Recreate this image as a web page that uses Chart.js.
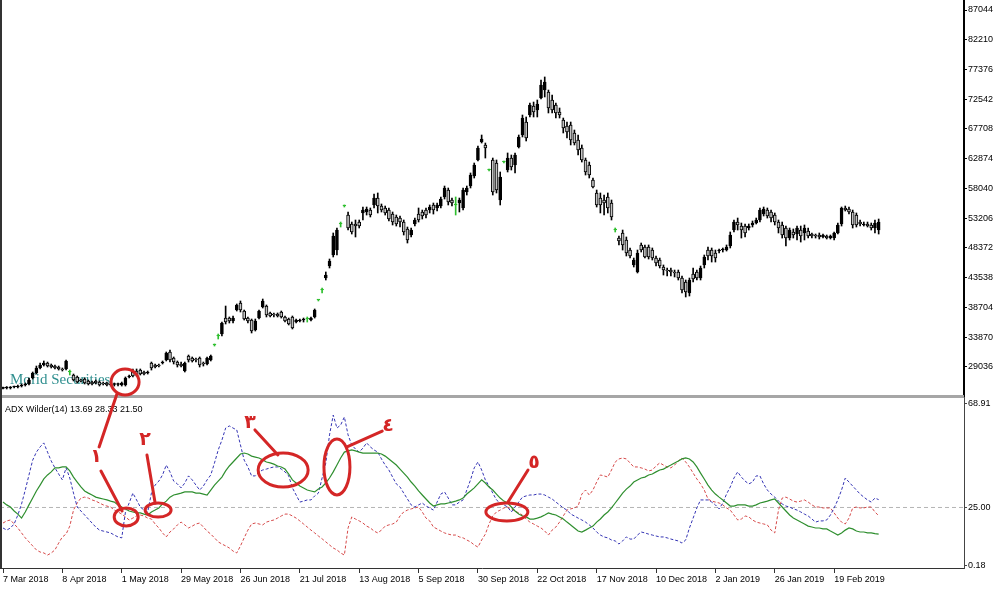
<!DOCTYPE html>
<html><head><meta charset="utf-8">
<script src="https://cdn.jsdelivr.net/npm/chart.js@4.4.1/dist/chart.umd.min.js"></script>
<style>html,body{margin:0;padding:0;background:#fff;}canvas{display:block;}</style>
</head><body>
<canvas id="c" width="1000" height="592"></canvas>
<script>
// ---------- DATA ----------
const openP = [25560,25620,25620,25780,25780,25940,26110,26270,27240,28060,
 28870,29360,29680,29360,29190,29030,28710,28710,28220,27730,
 27410,26920,27080,26760,26590,26760,26590,26430,26430,26270,
 26190,26190,26110,26110,27410,28220,28380,28540,28220,28060,
 29680,29360,29360,29680,30170,31470,30490,29840,29520,28380,
 30820,30490,30330,30490,29680,29520,30170,32610,34070,34390,
 36990,36990,36510,38290,39430,38130,36990,36670,35040,36990,
 38780,38940,37810,37640,37640,37970,37160,36830,37160,36340,
 36510,36670,36830,36670,37160,39920,41540,43490,45440,47230,
 48040,52270,55190,53730,52270,52270,52590,54060,54220,54540,
 55360,56490,55190,54870,54540,53890,53410,53240,52590,51460,
 50480,52270,53890,54220,54540,54540,55360,54870,55190,56660,
 57790,56170,55360,55680,54870,57470,58440,60070,62670,65590,
 65110,61040,62670,62180,56170,62340,61040,62990,61860,64780,
 66730,68840,69980,71440,70790,72740,74040,73720,72420,71610,
 70470,69170,68190,68360,67060,65920,64620,62670,61860,59420,
 57310,56490,56170,56660,55680,51290,49990,50810,49670,48040,
 45610,44470,48860,48530,48530,48040,46740,46420,45280,44790,
 44790,44470,44470,43490,42840,41060,44140,44470,43490,45610,
 48040,48040,47560,47880,48040,48040,48690,51290,52590,51940,
 51940,51620,52110,52430,52920,53890,54540,54220,53730,52590,
 52110,51620,49990,50970,50640,51290,50810,51130,50640,50480,
 50480,50160,50320,49990,49990,50810,52270,54870,54710,54220,
 53730,52590,52110,52270,52110,51620,51290];
const highP = [25780,25860,25860,25940,26110,26270,26430,27240,28220,29190,
 29680,30010,29840,29520,29360,29190,28870,30170,28540,27890,
 27570,27080,27240,26920,26760,26920,26760,26590,26590,26430,
 26430,26430,26590,27410,27730,28710,28710,28710,28380,28380,
 29840,29520,29520,30010,31470,31790,30660,30010,29840,29840,
 30980,30660,30490,30660,29840,30660,30980,32770,34390,36340,
 38940,37160,37320,39270,39760,38290,37160,36830,36830,38290,
 40080,39110,37970,37810,37810,38130,37320,36990,37320,36830,
 36830,36990,37160,37160,38460,39920,41870,44470,46580,50810,
 51620,52590,55360,54220,52590,52920,52920,55030,55030,54870,
 57140,57310,55520,55190,54870,54220,53730,53570,52920,51780,
 51620,53240,54870,54540,54870,55360,55680,55680,56660,58440,
 58120,56490,56660,56490,58120,58440,60560,62180,64940,66730,
 65430,61210,62990,62670,60720,62510,63810,63480,63810,66730,
 69980,69660,71930,72090,72420,75670,76160,74040,73230,71930,
 71120,69490,68840,68840,67540,66730,65110,62990,62340,59740,
 57790,57310,56980,57310,56170,51620,50320,51290,50160,48370,
 46740,48040,49180,48860,48860,48370,47070,46740,45610,45120,
 45120,44790,44790,43820,43170,43490,45120,44790,45440,47230,
 48530,48370,48040,48210,48370,48860,50970,52920,53240,52430,
 52270,52270,52760,53240,54870,55030,54870,54540,54060,52920,
 52590,51940,51620,51460,51940,51940,52110,51620,50810,50640,
 50810,50640,50480,50480,50970,52430,55030,55190,55030,54540,
 54060,52920,52590,52590,52430,52920,53080];
const lowP = [25460,25460,25460,25620,25620,25780,25940,26110,27080,27890,
 28710,29190,29030,28870,28710,28540,28380,28540,27730,26760,
 26430,26590,26270,26110,26110,26270,25940,26110,25940,25940,
 25940,25940,25940,25940,27240,27410,27570,27730,27730,27890,
 28540,28870,29030,29520,30010,29840,29520,29030,29030,28220,
 29840,29840,29840,29030,29190,29360,30010,32440,33580,34070,
 36020,36180,36180,38130,37970,36670,36180,34560,34880,36830,
 38620,37160,37160,37160,37160,36990,36340,35860,35210,36180,
 36340,36340,36340,36510,36990,39760,41060,43170,45120,46910,
 47230,51780,55030,51290,50640,50160,51620,52920,53730,53410,
 54870,54060,54220,53730,52760,52110,51940,51780,50480,49180,
 50160,51940,52590,53080,53240,54060,53890,54380,54870,56330,
 55360,55190,53730,54220,54540,56980,58120,59740,62510,65430,
 62990,60880,56980,57310,55360,62180,60720,61040,60560,64620,
 66410,65760,69660,69660,69660,72580,72910,70310,70310,69490,
 69490,67060,66240,65110,65110,63480,62340,60230,59740,58120,
 55030,54060,53730,54060,52920,50970,48860,48040,47070,46740,
 45280,44310,47720,46740,46580,46420,45440,45120,43980,43820,
 43820,43660,43170,41060,40410,40570,42840,43170,43170,45120,
 46420,46090,46090,47560,47720,47880,48370,50970,51290,49990,
 50160,51290,51780,52270,52590,53570,53240,52590,52110,50810,
 49990,48690,49670,49990,49670,49340,49670,49990,49990,49990,
 49830,49990,49830,49830,49670,50640,51940,54380,53890,51620,
 51780,51940,51940,51780,51290,50810,50640];
const closeP = [25660,25780,25780,25860,25940,26110,26270,26920,28060,28870,
 29360,29680,29190,29030,28870,28710,28540,30010,28220,26920,
 26590,26760,26430,26270,26270,26430,26110,26270,26110,26110,
 26270,26270,26430,27240,27570,27570,27730,27890,27890,28220,
 28870,29030,29190,29840,31310,30170,29840,29360,29190,29680,
 30170,30010,30170,29360,29520,30490,30820,32610,34070,36180,
 36340,36510,36990,39110,38290,36830,36510,34880,36510,38130,
 39760,37480,37320,37480,37320,37160,36510,36020,35370,36670,
 36670,36830,36830,36990,38290,39920,41540,43980,46260,50320,
 51290,52270,55190,51620,50970,51940,51940,54540,54710,53730,
 56490,55190,54540,54060,53080,52590,52270,52590,50970,49670,
 51290,52920,52920,53570,53730,55030,54540,55360,56330,58120,
 55840,55680,55360,56170,57790,58120,60230,61860,64620,66080,
 64620,61040,57470,57790,59910,62340,62990,61530,63480,66410,
 69490,66240,71610,70470,71770,74860,75340,71120,70790,70310,
 69980,67870,67220,65920,65430,64290,62670,60720,60230,58280,
 55360,55360,55680,54870,53410,51290,49510,48860,47560,47070,
 46420,47560,48040,46910,46910,46740,45930,45440,44790,44630,
 44470,44310,43490,41540,41220,43170,43330,43490,45120,46910,
 47070,47070,46740,48040,48210,48530,50480,52590,52110,51290,
 50810,51940,52430,52920,54540,54710,53570,53240,52590,51620,
 50480,49990,51290,50480,51620,50320,51620,50320,50320,50320,
 50160,50480,49990,50320,50810,52110,54870,54540,54220,52110,
 52110,52270,52270,51940,51620,52430,52590];
const adx = [27.3,26.1,25.2,23.5,22.2,20.5,23.1,26.1,29.0,32.0,
 34.5,37.1,38.8,40.1,41.8,41.8,42.2,42.2,40.5,37.9,
 35.8,33.7,32.0,31.1,30.3,29.4,29.0,28.6,28.2,27.7,
 27.3,26.1,25.2,24.4,23.5,23.1,22.7,22.7,22.2,21.8,
 23.1,23.9,24.8,26.5,27.7,29.4,30.3,30.7,31.1,31.6,
 31.6,31.6,31.1,31.1,30.7,30.3,32.4,34.5,36.2,37.9,
 40.5,42.6,44.3,46.0,47.7,48.1,47.7,46.8,46.4,46.0,
 45.2,44.3,43.9,43.4,42.6,42.2,41.3,39.2,36.7,35.4,
 34.1,33.3,32.4,32.0,31.6,32.8,33.7,35.4,37.5,40.1,
 43.0,46.0,48.5,49.0,49.4,49.0,48.5,48.1,48.1,48.1,
 48.1,48.1,47.7,46.8,45.6,44.3,43.0,41.3,39.6,37.9,
 35.8,34.1,32.0,30.3,28.6,26.9,25.6,26.1,26.5,26.5,
 26.9,27.3,27.7,28.2,29.0,30.7,32.0,33.3,35.0,36.7,
 35.4,33.7,32.4,30.7,29.0,27.7,26.9,25.2,23.5,22.2,
 21.4,21.0,20.1,20.1,20.5,21.0,21.8,22.7,22.2,21.8,
 21.0,20.1,18.8,17.6,16.3,15.0,14.6,15.4,16.3,17.1,
 18.8,20.1,21.8,23.1,24.8,26.9,29.0,31.1,32.8,34.1,
 35.8,36.7,37.5,37.9,38.8,39.2,40.1,40.9,41.3,42.2,
 43.0,43.9,44.7,45.6,46.0,45.6,44.3,42.2,39.6,37.1,
 34.5,32.4,30.7,29.4,28.2,26.9,25.6,25.6,26.1,26.1,
 26.1,25.6,25.6,26.1,26.9,27.3,27.7,28.2,28.6,26.9,
 25.2,23.5,21.8,20.5,19.7,18.8,18.0,17.1,16.7,16.3,
 16.3,15.9,15.9,15.0,14.2,13.3,14.2,15.4,16.3,15.9,
 15.0,14.6,14.6,14.2,14.2,13.9,13.69];
const plusDI = [16.3,15.4,16.3,18.0,21.8,26.5,32.4,38.8,45.1,48.5,
 50.7,52.4,48.5,44.7,41.8,39.2,36.7,41.8,37.5,31.1,
 25.2,23.5,21.8,20.1,18.4,16.7,15.4,15.0,14.6,14.2,
 13.3,12.5,12.1,23.1,26.9,31.1,28.2,25.2,23.9,23.1,
 31.1,34.5,36.2,38.8,43.0,40.1,36.2,35.0,33.3,35.4,
 38.4,36.7,34.5,32.4,34.1,36.7,38.8,43.9,49.4,53.6,
 58.7,59.6,58.7,57.9,51.5,45.1,42.2,38.4,38.4,40.1,
 40.9,41.3,41.8,42.2,42.2,41.3,40.1,38.4,33.3,30.3,
 27.3,27.7,28.2,28.2,29.9,31.1,37.5,43.9,55.8,64.2,
 58.7,60.0,63.4,55.8,51.5,49.8,48.5,50.2,52.4,50.7,
 49.4,48.5,45.6,43.0,40.9,37.9,35.0,33.7,31.1,28.6,
 26.1,25.2,26.1,26.9,25.6,24.8,23.9,27.3,30.7,31.6,
 29.0,26.1,26.1,27.3,28.2,32.4,36.7,41.8,44.3,40.9,
 36.7,34.1,31.1,28.2,26.9,26.1,25.2,23.1,25.2,27.3,
 29.4,29.9,30.3,30.3,30.7,30.7,30.3,29.4,28.6,27.3,
 26.1,24.8,23.9,22.2,21.4,20.5,19.7,18.8,17.6,16.3,
 14.6,13.3,12.5,12.1,11.2,10.8,9.5,10.8,12.5,11.6,
 11.6,13.3,14.6,14.2,13.7,13.3,12.9,12.5,12.5,12.1,
 11.6,11.2,10.8,9.9,11.2,16.3,20.5,24.8,28.2,28.2,
 28.2,27.3,26.1,24.4,26.9,30.7,33.7,37.5,40.1,37.9,
 36.2,35.0,35.8,38.4,38.4,35.0,32.4,30.7,29.4,27.7,
 26.5,25.6,25.2,24.4,23.9,23.1,22.2,21.4,20.1,18.8,
 19.3,19.3,19.7,21.8,24.8,28.2,32.4,37.5,35.8,34.1,
 32.4,30.7,29.4,28.2,27.3,29.0,28.33];
const minusDI = [18.4,19.3,19.7,18.0,16.3,14.2,12.1,10.4,8.7,7.0,
 6.1,5.7,4.8,5.7,7.0,9.9,12.5,13.7,17.1,23.9,
 26.9,29.0,29.4,29.0,28.2,27.7,26.9,26.1,25.6,25.2,
 23.9,23.1,22.2,21.0,19.7,20.5,21.4,21.8,21.4,20.5,
 20.1,18.0,16.3,14.2,12.5,14.6,15.9,17.6,18.8,17.6,
 16.3,17.1,18.0,18.4,16.7,15.0,13.7,12.1,10.4,9.5,
 8.7,7.8,6.5,5.7,8.7,12.1,15.4,18.0,18.4,18.0,
 17.6,18.8,19.3,19.7,20.5,21.4,22.2,22.2,21.4,20.5,
 19.3,18.0,16.7,15.4,14.2,12.9,11.7,10.4,9.1,7.8,
 7.0,5.7,4.8,16.3,21.0,20.1,19.3,18.4,17.1,16.3,
 15.0,14.2,15.4,17.1,17.6,18.0,18.8,21.4,23.1,23.9,
 24.4,24.8,25.2,23.1,20.5,19.3,16.7,15.9,15.0,14.2,
 13.7,13.3,13.3,12.5,12.1,11.2,10.4,9.1,8.2,11.2,
 13.7,18.0,21.4,23.1,23.9,24.8,25.2,24.4,23.5,22.7,
 21.8,20.1,18.8,18.0,17.1,16.3,15.0,13.3,15.4,16.7,
 18.8,21.4,23.9,24.4,24.8,25.6,30.7,32.4,30.3,32.4,
 35.8,38.8,38.4,37.9,40.9,44.3,45.6,46.0,45.6,43.9,
 42.2,42.2,41.8,41.3,40.5,40.9,42.6,43.9,43.0,42.2,
 41.8,43.0,44.7,46.0,44.3,42.2,39.6,37.1,35.0,32.4,
 28.6,27.7,27.3,26.9,26.1,24.8,23.9,21.8,19.7,20.1,
 21.4,21.0,19.7,18.8,18.4,18.0,17.6,15.4,14.2,23.9,
 29.0,29.4,28.6,27.7,27.3,27.7,28.2,27.3,26.1,25.2,
 25.2,24.8,24.8,24.8,22.7,20.5,18.8,18.0,20.5,24.8,
 25.2,24.8,24.8,25.2,25.2,23.1,21.50];
const priceTicks = [87044,82210,77376,72542,67708,62874,58040,53206,48372,43538,38704,33870,29036];
const adxTicks = [68.91,25.00,0.18];
const adxLevels = [25];
const dateLabels = ['7 Mar 2018','8 Apr 2018','1 May 2018','29 May 2018','26 Jun 2018','21 Jul 2018','13 Aug 2018','5 Sep 2018','30 Sep 2018','22 Oct 2018','17 Nov 2018','10 Dec 2018','2 Jan 2019','26 Jan 2019','19 Feb 2019'];
const barsPerDateLabel = 16;

// ---------- annotations (hand-drawn marks, in data coordinates) ----------
const annoEllipses = [
  {axis:'yP', i:32.9, v:26590, rx:14, ry:13},
  {axis:'yA', i:33.2, v:21.0, rx:12, ry:9},
  {axis:'yA', i:41.8, v:23.9, rx:13, ry:7},
  {axis:'yA', i:75.5, v:40.9, rx:25, ry:17},
  {axis:'yA', i:90.0, v:42.2, rx:13, ry:28},
  {axis:'yA', i:135.8, v:23.1, rx:21, ry:9}
];
const annoLines = [
  [{axis:'yP', i:30.7, v:24640}, {axis:'yA', i:25.9, v:50.7}],
  [{axis:'yA', i:26.4, v:40.5}, {axis:'yA', i:32.1, v:23.5}],
  [{axis:'yA', i:38.8, v:47.3}, {axis:'yA', i:41.0, v:26.9}],
  [{axis:'yA', i:67.9, v:57.9}, {axis:'yA', i:74.1, v:47.3}],
  [{axis:'yA', i:102.2, v:57.4}, {axis:'yA', i:92.7, v:50.7}],
  [{axis:'yA', i:141.5, v:40.9}, {axis:'yA', i:136.1, v:27.3}]
];
const annoTexts = [
  {axis:'yA', i:25.1, v:46.4, t:'١'},
  {axis:'yA', i:38.3, v:53.6, t:'٢'},
  {axis:'yA', i:66.6, v:60.8, t:'٣'},
  {axis:'yA', i:103.8, v:59.6, t:'٤'},
  {axis:'yA', i:143.1, v:43.9, t:'٥'}
];

// ---------- styles ----------
const UP = '#000000', DOWN = '#c4c4c4', DOJI = '#2fbf2f';
const ANNO = '#d42626';
const X_MIN = -0.81, X_MAX = 259.0;

Chart.defaults.font.family = '"Liberation Sans", Arial, sans-serif';
Chart.defaults.font.size = 9;
Chart.defaults.color = '#000';

const idx = closeP.map((_, i) => i);
const kind = i => closeP[i] > openP[i] ? 'up' : (closeP[i] < openP[i] ? 'down' : 'doji');

const overlay = {
  id: 'overlay',
  beforeDatasetsDraw(chart) {
    const {ctx, chartArea: a, scales: {yP}} = chart;
    ctx.save();
    ctx.font = '15px "Liberation Serif", serif';
    ctx.fillStyle = '#2f8f8f';
    ctx.textAlign = 'left';
    ctx.textBaseline = 'alphabetic';
    ctx.fillText('Mofid Securities', a.left + 10, yP.bottom - 13);
    ctx.restore();
  },
  afterDraw(chart) {
    const {ctx, chartArea: a, scales: {x, yP, yA}} = chart;
    const sc = {yP, yA};
    const pt = p => [x.getPixelForValue(p.i), sc[p.axis].getPixelForValue(p.v)];
    ctx.save();
    ctx.fillStyle = '#a6a6a6';
    ctx.fillRect(a.left, yP.bottom - 2, a.right - a.left, 3);
    ctx.fillStyle = '#333';
    ctx.fillRect(a.left, a.top, 2, a.bottom - a.top);
    ctx.fillStyle = '#000';
    ctx.font = '9px "Liberation Sans", Arial, sans-serif';
    ctx.textAlign = 'left';
    ctx.textBaseline = 'middle';
    const last = arr => arr[arr.length - 1].toFixed(2);
    ctx.fillText('ADX Wilder(14) ' + last(adx) + ' ' + last(plusDI) + ' ' + last(minusDI), a.left + 5, yA.top + 13);
    ctx.strokeStyle = ANNO;
    ctx.lineWidth = 3;
    ctx.lineCap = 'round';
    annoLines.forEach(([p, q]) => {
      const [x1, y1] = pt(p), [x2, y2] = pt(q);
      ctx.beginPath(); ctx.moveTo(x1, y1); ctx.lineTo(x2, y2); ctx.stroke();
    });
    annoEllipses.forEach(e => {
      const [cx, cy] = pt(e);
      ctx.beginPath(); ctx.ellipse(cx, cy, e.rx, e.ry, 0, 0, Math.PI * 2); ctx.stroke();
    });
    ctx.fillStyle = ANNO;
    ctx.font = 'bold 19px "DejaVu Sans", sans-serif';
    ctx.textAlign = 'center';
    ctx.textBaseline = 'middle';
    annoTexts.forEach(t => { const [tx, ty] = pt(t); ctx.fillText(t.t, tx, ty); });
    ctx.restore();
  }
};

new Chart(document.getElementById('c'), {
  type: 'bar',
  data: {
    datasets: [
      {
        label: 'body', yAxisID: 'yP', order: 1, grouped: false,
        data: idx.map(i => ({x: i, y: [openP[i], closeP[i]]})),
        barThickness: 3, minBarLength: 1, borderSkipped: false, borderWidth: 1,
        backgroundColor: c => { const i = c.dataIndex; if (i === undefined) return UP; const k = kind(i); return k === 'up' ? UP : (k === 'down' ? DOWN : DOJI); },
        borderColor: c => { const i = c.dataIndex; if (i === undefined) return UP; return kind(i) === 'doji' ? DOJI : '#000'; }
      },
      {
        label: 'wick', yAxisID: 'yP', order: 2, grouped: false,
        data: idx.map(i => ({x: i, y: [lowP[i], highP[i]]})),
        barThickness: 1, borderWidth: 0,
        backgroundColor: c => { const i = c.dataIndex; if (i === undefined) return UP; return kind(i) === 'doji' ? DOJI : '#000'; }
      },
      {
        type: 'line', label: 'level', yAxisID: 'yA', order: 6,
        data: [{x: X_MIN, y: adxLevels[0]}, {x: X_MAX, y: adxLevels[0]}],
        borderColor: '#b4b4b4', borderWidth: 1, borderDash: [4, 3], pointRadius: 0
      },
      {
        type: 'line', label: '-DI', yAxisID: 'yA', order: 5,
        data: idx.map(i => ({x: i, y: minusDI[i]})),
        borderColor: '#d64a4a', borderWidth: 1, borderDash: [3, 2], pointRadius: 0, tension: 0
      },
      {
        type: 'line', label: '+DI', yAxisID: 'yA', order: 4,
        data: idx.map(i => ({x: i, y: plusDI[i]})),
        borderColor: '#3434b4', borderWidth: 1, borderDash: [3, 2], pointRadius: 0, tension: 0
      },
      {
        type: 'line', label: 'ADX', yAxisID: 'yA', order: 3,
        data: idx.map(i => ({x: i, y: adx[i]})),
        borderColor: '#2f8f2f', borderWidth: 1.2, pointRadius: 0, tension: 0
      }
    ]
  },
  options: {
    responsive: false, animation: false, devicePixelRatio: 1, events: [],
    layout: {padding: 0},
    plugins: {legend: {display: false}, tooltip: {enabled: false}, title: {display: false}},
    scales: {
      x: {
        type: 'linear', position: 'bottom', min: X_MIN, max: X_MAX, offset: false,
        border: {display: true, color: '#333', width: 1},
        grid: {drawOnChartArea: false, drawTicks: true, tickLength: 5, color: '#333', offset: false},
        ticks: {align: 'start', maxRotation: 0, minRotation: 0, autoSkip: false, padding: 1,
                callback: (v, k) => dateLabels[k]},
        afterBuildTicks: s => { s.ticks = dateLabels.map((_, k) => ({value: k * barsPerDateLabel})); },
        afterFit: s => { s.height = 24; s.paddingLeft = 0; s.paddingRight = 0; }
      },
      yP: {
        type: 'linear', position: 'right', stack: 'panes', stackWeight: 397, offset: false,
        min: 24157, max: 88669,
        border: {display: true, color: '#000', width: 2},
        grid: {drawOnChartArea: false, drawTicks: true, tickLength: 3, color: '#000'},
        ticks: {padding: 1, callback: v => String(v)},
        afterBuildTicks: s => { s.ticks = priceTicks.map(v => ({value: v})); },
        afterFit: s => { s.width = 36; s.paddingTop = 0; s.paddingBottom = 0; }
      },
      yA: {
        type: 'linear', position: 'right', stack: 'panes', stackWeight: 171, offset: false,
        min: -0.68, max: 71.88,
        border: {display: true, color: '#444', width: 1},
        grid: {drawOnChartArea: false, drawTicks: true, tickLength: 3, color: '#444'},
        ticks: {padding: 1, callback: v => Number(v).toFixed(2)},
        afterBuildTicks: s => { s.ticks = adxTicks.map(v => ({value: v})); },
        afterFit: s => { s.width = 36; s.paddingTop = 0; s.paddingBottom = 0; }
      }
    }
  },
  plugins: [overlay]
});
</script>
</body></html>
